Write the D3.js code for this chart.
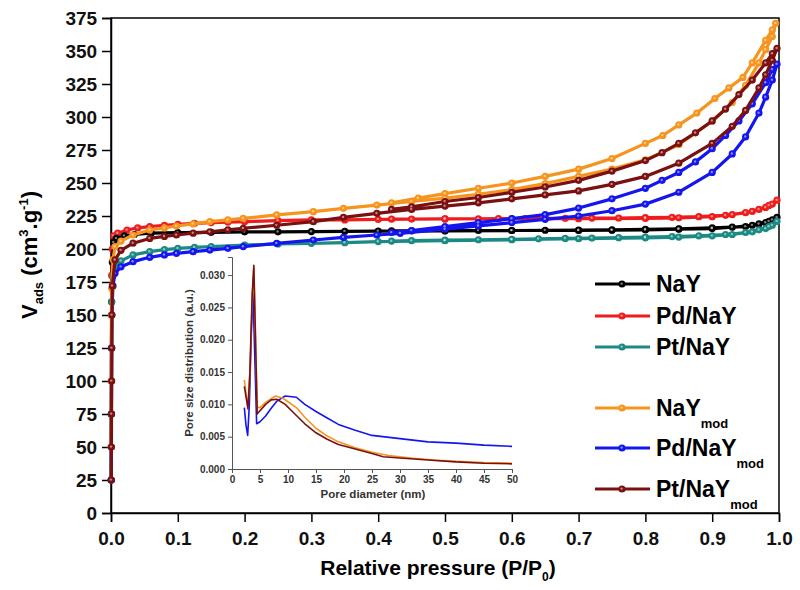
<!DOCTYPE html>
<html>
<style>
body { margin: 0; background: #fff; }
text { font-family: "Liberation Sans", Arial, sans-serif; }
</style>
<body>
<script src="https://d3js.org/d3.v7.min.js"></script>
<script>
// isotherms: [P/P0, Vads] - adsorption branch then desorption branch
var NaY = [[0.0004,25],[0.0006,75],[0.0008,125],[0.001,160],[0.002,190],[0.004,205],[0.008,208],[0.02,210],[0.035,211],[0.06,212],[0.1,212.4],[0.15,212.6],[0.2,213],[0.25,213],[0.3,213.2],[0.35,213.4],[0.4,213.6],[0.5,213.8],[0.6,214],[0.7,214],[0.75,214.2],[0.8,214.5],[0.85,215],[0.9,215.5],[0.93,216.5],[0.96,218],[0.98,220],[0.99,222],[0.997,224],
  [0.985,221],[0.97,219],[0.95,217],[0.9,216],[0.85,215.3],[0.8,214.8],[0.75,214.5],[0.7,214.3],[0.65,214.2],[0.6,214],[0.55,214],[0.5,213.9],[0.45,213.8],[0.42,213.7]];
var PdNaY = [[0.0004,50],[0.0006,100],[0.0008,150],[0.001,180],[0.002,200],[0.004,210],[0.01,212],[0.024,214.4],[0.04,216],[0.058,217],[0.08,218],[0.1,218.7],[0.125,219.4],[0.15,220],[0.175,220.4],[0.2,220.7],[0.25,221.5],[0.3,222],[0.35,222],[0.4,222.5],[0.5,222.8],[0.6,223],[0.7,223],[0.8,223.2],[0.85,223.6],[0.9,224.5],[0.93,226],[0.96,228.5],[0.98,231.5],[0.99,234],[0.997,237],
  [0.985,233],[0.97,230],[0.95,227.5],[0.92,225.5],[0.88,224.5],[0.84,224],[0.8,223.7],[0.76,223.5],[0.72,223.4],[0.68,223.3],[0.65,223.2],[0.62,223.1],[0.58,223],[0.55,222.9],[0.5,222.8],[0.45,222.7],[0.42,222.6]];
var PtNaY = [[0.0004,25],[0.0006,75],[0.0008,125],[0.001,160],[0.003,180],[0.006,186.6],[0.015,191],[0.033,195.5],[0.058,198],[0.08,199.5],[0.1,200.5],[0.125,201.2],[0.15,201.8],[0.2,203],[0.25,203.8],[0.3,204.3],[0.35,204.8],[0.4,205.6],[0.5,206.3],[0.6,207],[0.7,207.8],[0.8,208.5],[0.85,209],[0.9,210],[0.93,211],[0.96,213],[0.98,215.5],[0.99,218],[0.997,221],
  [0.985,217],[0.97,214.5],[0.95,212.5],[0.92,211],[0.88,210],[0.84,209.4],[0.8,209],[0.76,208.6],[0.72,208.3],[0.68,208],[0.64,207.7],[0.6,207.4],[0.55,207],[0.5,206.7],[0.45,206.3],[0.42,206]];
var NaYmod = [[0.0004,50],[0.0006,100],[0.0008,150],[0.001,170],[0.003,192],[0.006,201.8],[0.015,206],[0.033,210.6],[0.058,214.4],[0.08,216],[0.098,217.4],[0.123,219],[0.148,220.7],[0.175,222],[0.198,223.2],[0.248,225.8],[0.303,228.3],[0.348,230.8],[0.398,233.3],[0.45,236],[0.5,238.5],[0.55,241.5],[0.6,245],[0.65,249.5],[0.7,255],[0.75,260.5],[0.8,267.5],[0.85,279],[0.9,297],[0.93,311],[0.95,324],[0.97,341],[0.98,351],[0.99,361],[0.995,371],
  [0.99,366],[0.98,358],[0.96,341],[0.946,330],[0.925,322],[0.904,314],[0.877,303],[0.85,294],[0.826,286],[0.8,280],[0.75,268.5],[0.7,260.5],[0.65,255],[0.6,250],[0.55,246],[0.5,242],[0.46,238.5],[0.42,235]];
var PdNaYmod = [[0.0004,25],[0.0006,75],[0.0008,125],[0.001,150],[0.003,172],[0.006,181.6],[0.015,186.5],[0.033,190.4],[0.058,193.7],[0.08,195.5],[0.098,196.7],[0.123,198],[0.148,199.2],[0.175,200.5],[0.198,201.8],[0.248,204.3],[0.303,206.8],[0.348,208.8],[0.398,210.6],[0.433,211.9],[0.5,215],[0.55,217.5],[0.6,220],[0.65,222.5],[0.7,225],[0.75,229],[0.8,234],[0.85,243],[0.9,258],[0.93,272],[0.95,285],[0.97,303],[0.98,315],[0.99,328],[0.997,340],
  [0.99,336],[0.98,326],[0.96,310],[0.94,297],[0.92,286],[0.9,276],[0.875,266],[0.85,258],[0.825,252],[0.8,246],[0.75,238],[0.7,231],[0.65,226],[0.6,223],[0.55,220],[0.5,217],[0.45,214],[0.42,212.5]];
var PtNaYmod = [[0.0004,25],[0.0006,50],[0.0008,75],[0.001,100],[0.0012,125],[0.0014,150],[0.002,172],[0.006,191.7],[0.015,199],[0.033,204.4],[0.058,208],[0.08,209.5],[0.098,210.6],[0.123,212],[0.148,213],[0.175,214.5],[0.198,215.7],[0.248,218],[0.303,220.7],[0.348,224],[0.398,227],[0.45,230],[0.5,232.5],[0.55,235],[0.6,238],[0.65,241],[0.7,244],[0.75,249],[0.8,255],[0.85,265],[0.9,280],[0.93,293],[0.95,305],[0.97,322],[0.98,332],[0.99,343],[0.997,352],
  [0.99,348],[0.98,341],[0.96,328],[0.94,317],[0.92,306],[0.9,297],[0.875,288],[0.85,280],[0.825,273],[0.8,267],[0.75,259],[0.7,252],[0.65,247],[0.6,243],[0.55,239],[0.5,236],[0.45,232],[0.42,230]];

// inset pore size distribution: [diameter nm, value]
var psdNaYmod = [[2.2,0.0138],[2.5,0.0118],[2.85,0.0095],[3.2,0.0150],[3.6,0.026],[3.9,0.0312],[4.5,0.0096],[5,0.0095],[6,0.0103],[7,0.0109],[7.8,0.0113],[9,0.0110],[10,0.0104],[11.5,0.0095],[13,0.0080],[15,0.0063],[17,0.0051],[19,0.0042],[22,0.0033],[25,0.0026],[28,0.0021],[32,0.0017],[36,0.0014],[40,0.0012],[45,0.0010],[50,0.0009]];
var psdPdNaYmod = [[2.2,0.0095],[2.5,0.0068],[2.8,0.0052],[3.1,0.0100],[3.45,0.021],[3.75,0.0272],[4.4,0.0070],[5,0.0073],[6,0.0082],[7,0.0094],[8,0.0105],[9.5,0.0113],[11.5,0.0111],[13,0.0100],[15,0.0089],[17,0.0079],[19,0.0069],[22,0.0060],[25,0.0052],[30,0.0047],[35,0.0042],[40,0.0040],[45,0.0037],[50,0.0035]];
var psdPtNaYmod = [[2.2,0.0128],[2.5,0.0112],[2.85,0.0093],[3.2,0.0150],[3.6,0.027],[3.9,0.0315],[4.5,0.0085],[5,0.0090],[6,0.0100],[7,0.0107],[8,0.0108],[9.5,0.0100],[11,0.0087],[13,0.0070],[15,0.0056],[17,0.0046],[19,0.0038],[22,0.0031],[25,0.0024],[27,0.0019],[30,0.0017],[35,0.0014],[40,0.0011],[45,0.0009],[50,0.0008]];

var names = ["NaY", "Pd/NaY", "Pt/NaY", "NaY", "Pd/NaY", "Pt/NaY"];
var subs = ["", "", "", "mod", "mod", "mod"];
var colors = ["#000000", "#ee1c1c", "#1b8a84", "#f7941d", "#1515f0", "#7a1010"];
var seriesData = [NaY, PdNaY, PtNaY, NaYmod, PdNaYmod, PtNaYmod];
var xTicks = [0, 0.1, 0.2, 0.3, 0.4, 0.5, 0.6, 0.7, 0.8, 0.9, 1.0];
var yTicks = [0, 25, 50, 75, 100, 125, 150, 175, 200, 225, 250, 275, 300, 325, 350, 375];
var insetXTicks = [0, 5, 10, 15, 20, 25, 30, 35, 40, 45, 50];
var insetYTicks = [0, 0.005, 0.010, 0.015, 0.020, 0.025, 0.030];

var svg = d3.select("body").append("svg")
  .attr("width", 800)
  .attr("height", 590);

var x = d3.scaleLinear().domain([0, 1]).range([111, 779]);
var y = d3.scaleLinear().domain([0, 375]).range([513, 18]);

// frame
svg.append("rect")
  .attr("x", 111).attr("y", 18)
  .attr("width", 668).attr("height", 495)
  .attr("fill", "none").attr("stroke", "#000").attr("stroke-width", 1.5);

var xAxis = svg.append("g")
  .attr("transform", "translate(0,513)")
  .call(d3.axisBottom(x).tickValues(xTicks).tickFormat(d3.format(".1f")).tickSize(9));
var yAxis = svg.append("g")
  .attr("transform", "translate(111,0)")
  .call(d3.axisLeft(y).tickValues(yTicks).tickSize(9));
[xAxis, yAxis].forEach(function(a) {
  a.select(".domain").attr("stroke-width", 1.5);
  a.selectAll(".tick line").attr("stroke-width", 1.5);
  a.selectAll("text").attr("font-size", 19).attr("font-weight", "bold")
    .attr("font-family", "Liberation Sans, Arial, sans-serif").attr("fill", "#111");
});
xAxis.selectAll("text").attr("dy", "1.05em");
yAxis.selectAll("text").attr("dx", "-0.1em");

// axis titles
var xt = svg.append("text")
  .attr("x", 438).attr("y", 575)
  .attr("text-anchor", "middle")
  .attr("font-size", 21).attr("font-weight", "bold");
xt.append("tspan").text("Relative pressure (P/P");
xt.append("tspan").attr("font-size", 12).attr("dy", 6).text("0");
xt.append("tspan").attr("dy", -6).text(")");

var yt = svg.append("text")
  .attr("transform", "translate(37,255) rotate(-90)")
  .attr("text-anchor", "middle")
  .attr("font-size", 22).attr("font-weight", "bold");
yt.append("tspan").text("V");
yt.append("tspan").attr("font-size", 13).attr("dy", 6).text("ads");
yt.append("tspan").attr("dy", -6).text(" (cm");
yt.append("tspan").attr("font-size", 13).attr("dy", -9).text("3");
yt.append("tspan").attr("dy", 9).text(".g");
yt.append("tspan").attr("font-size", 13).attr("dy", -9).text("-1");
yt.append("tspan").attr("dy", 9).text(")");

// isotherms
var line = d3.line()
  .x(function(d) { return x(d[0]); })
  .y(function(d) { return y(d[1]); });

function markers(g, pts, col) {
  g.selectAll("circle.m").data(pts).enter().append("circle")
    .attr("class", "m")
    .attr("cx", function(d) { return x(d[0]); })
    .attr("cy", function(d) { return y(d[1]); })
    .attr("r", 3.6)
    .attr("fill", col);
  g.selectAll("circle.h").data(pts).enter().append("circle")
    .attr("class", "h")
    .attr("cx", function(d) { return x(d[0]) - 0.4; })
    .attr("cy", function(d) { return y(d[1]) - 0.4; })
    .attr("r", 1.2)
    .attr("fill", "#fff").attr("fill-opacity", 0.5);
}

var order = [1, 0, 2, 4, 3, 5];
order.forEach(function(i) {
  var g = svg.append("g");
  g.append("path")
    .attr("d", line(seriesData[i]))
    .attr("fill", "none")
    .attr("stroke", colors[i])
    .attr("stroke-width", 3.2)
    .attr("stroke-linejoin", "round");
  markers(g, seriesData[i], colors[i]);
});

// legend
var legY = [284, 316, 347, 408, 448, 489];
names.forEach(function(n, i) {
  var g = svg.append("g");
  g.append("line")
    .attr("x1", 595).attr("x2", 650)
    .attr("y1", legY[i]).attr("y2", legY[i])
    .attr("stroke", colors[i]).attr("stroke-width", 3.2);
  g.append("circle").attr("cx", 622).attr("cy", legY[i]).attr("r", 3.6).attr("fill", colors[i]);
  g.append("circle").attr("cx", 621.6).attr("cy", legY[i] - 0.4).attr("r", 1.2)
    .attr("fill", "#fff").attr("fill-opacity", 0.5);
  var t = g.append("text")
    .attr("x", 656).attr("y", legY[i] + 8)
    .attr("font-size", 23).attr("font-weight", "bold");
  t.append("tspan").text(n);
  if (subs[i]) t.append("tspan").attr("font-size", 13).attr("dy", 12).text(subs[i]);
});

// inset
var ix = d3.scaleLinear().domain([0, 50]).range([232, 512]);
var iy = d3.scaleLinear().domain([0, 0.0328]).range([469, 257]);

var ixAxis = svg.append("g")
  .attr("transform", "translate(0,469)")
  .call(d3.axisBottom(ix).tickValues(insetXTicks).tickSize(4));
var iyAxis = svg.append("g")
  .attr("transform", "translate(232,0)")
  .call(d3.axisLeft(iy).tickValues(insetYTicks).tickFormat(d3.format(".3f")).tickSize(4));
[ixAxis, iyAxis].forEach(function(a) {
  a.select(".domain").attr("stroke", "#555");
  a.selectAll(".tick line").attr("stroke", "#555");
  a.selectAll("text").attr("font-size", 10).attr("font-weight", "bold")
    .attr("font-family", "Liberation Sans, Arial, sans-serif").attr("fill", "#333");
});

svg.append("text")
  .attr("x", 373).attr("y", 498)
  .attr("text-anchor", "middle")
  .attr("font-size", 11.5).attr("font-weight", "bold").attr("fill", "#333")
  .text("Pore diameter (nm)");
svg.append("text")
  .attr("transform", "translate(193,363) rotate(-90)")
  .attr("text-anchor", "middle")
  .attr("font-size", 11.5).attr("font-weight", "bold").attr("fill", "#333")
  .text("Pore size distribution (a.u.)");

var iline = d3.line()
  .x(function(d) { return ix(d[0]); })
  .y(function(d) { return iy(d[1]); });

[[psdPdNaYmod, colors[4]], [psdNaYmod, colors[3]], [psdPtNaYmod, colors[5]]].forEach(function(s) {
  svg.append("path")
    .attr("d", iline(s[0]))
    .attr("fill", "none")
    .attr("stroke", s[1])
    .attr("stroke-width", 1.6)
    .attr("stroke-linejoin", "round");
});
</script>
</body>
</html>
